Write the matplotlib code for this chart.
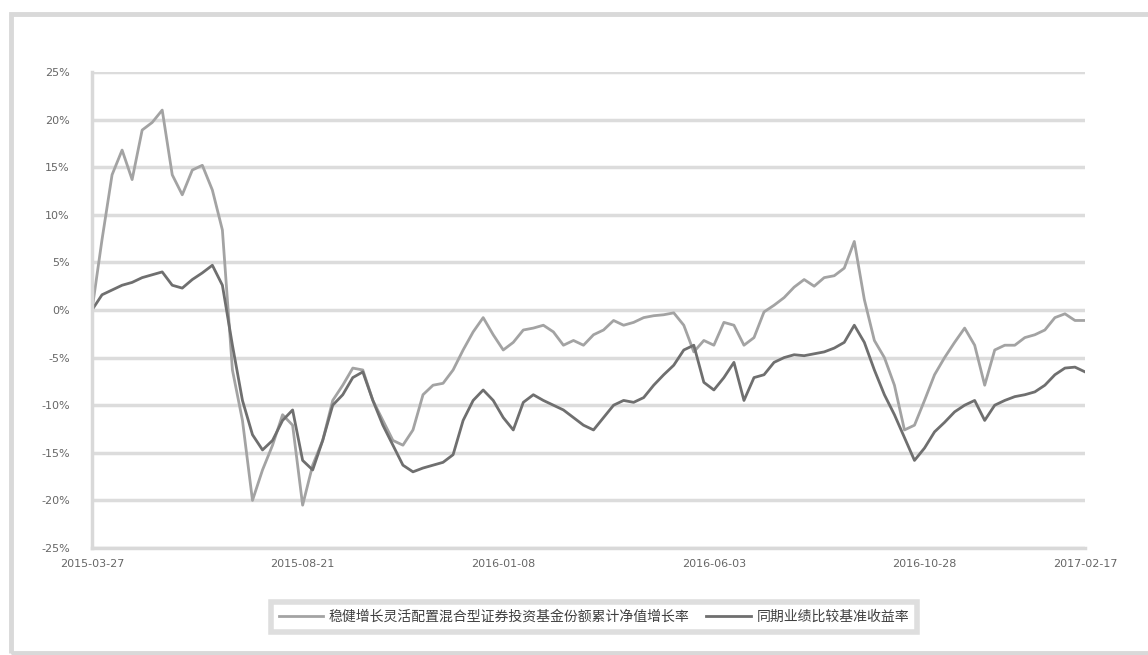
import matplotlib
matplotlib.use("Agg")
import matplotlib.pyplot as plt
from matplotlib.patches import Rectangle
from matplotlib.ticker import FuncFormatter

plt.rcParams['font.family'] = ['Noto Sans CJK SC', 'DejaVu Sans']

# ---- data (percent) ----
fund_name = "稳健增长灵活配置混合型证券投资基金份额累计净值增长率"
bench_name = "同期业绩比较基准收益率"

fund_return = [
    0.0, 7.4, 14.2, 16.8, 13.7, 18.9, 19.7, 21.0, 14.2, 12.1,
    14.7, 15.2, 12.6, 8.4, -6.3, -11.6, -20.0, -16.8, -14.2, -11.0,
    -12.1, -20.5, -16.3, -13.7, -9.5, -7.9, -6.1, -6.3, -9.5, -11.6,
    -13.7, -14.2, -12.6, -8.9, -7.9, -7.7, -6.3, -4.2, -2.3, -0.8,
    -2.6, -4.2, -3.4, -2.1, -1.9, -1.6, -2.3, -3.7, -3.2, -3.7,
    -2.6, -2.1, -1.1, -1.6, -1.3, -0.8, -0.6, -0.5, -0.3, -1.6,
    -4.4, -3.2, -3.7, -1.3, -1.6, -3.7, -2.9, -0.2, 0.5, 1.3,
    2.4, 3.2, 2.5, 3.4, 3.6, 4.4, 7.2, 1.1, -3.2, -5.0,
    -7.9, -12.6, -12.1, -9.5, -6.8, -5.0, -3.4, -1.9, -3.7, -7.9,
    -4.2, -3.7, -3.7, -2.9, -2.6, -2.1, -0.8, -0.4, -1.1, -1.1,
]

bench_return = [
    0.0, 1.6, 2.1, 2.6, 2.9, 3.4, 3.7, 4.0, 2.6, 2.3,
    3.2, 3.9, 4.7, 2.6, -3.7, -9.5, -13.1, -14.7, -13.7, -11.6,
    -10.5, -15.8, -16.8, -13.7, -10.0, -8.9, -7.1, -6.5, -9.5, -12.1,
    -14.2, -16.3, -17.0, -16.6, -16.3, -16.0, -15.2, -11.6, -9.5, -8.4,
    -9.5, -11.3, -12.6, -9.7, -8.9, -9.5, -10.0, -10.5, -11.3, -12.1,
    -12.6, -11.3, -10.0, -9.5, -9.7, -9.2, -7.9, -6.8, -5.8, -4.2,
    -3.7, -7.6, -8.4, -7.1, -5.5, -9.5, -7.1, -6.8, -5.5, -5.0,
    -4.7, -4.8, -4.6, -4.4, -4.0, -3.4, -1.6, -3.4, -6.3, -8.9,
    -11.0, -13.4, -15.8, -14.5, -12.8, -11.8, -10.7, -10.0, -9.5, -11.6,
    -10.0, -9.5, -9.1, -8.9, -8.6, -7.9, -6.8, -6.1, -6.0, -6.5,
]

tick_index = [0, 21, 41, 62, 83, 99]
tick_labels = ["2015-03-27", "2015-08-21", "2016-01-08",
               "2016-06-03", "2016-10-28", "2017-02-17"]
y_ticks = [25, 20, 15, 10, 5, 0, -5, -10, -15, -20, -25]

x = list(range(len(fund_return)))

fig = plt.figure(figsize=(11.48, 6.55), dpi=100)
fig.patch.set_facecolor("white")

# outer chart border (left, top, bottom; right edge runs off the image)
fig.add_artist(Rectangle((11 / 1148, 2 / 655), 1150 / 1148, 639 / 655,
                         transform=fig.transFigure, fill=False,
                         edgecolor="#d9d9d9", linewidth=3.5))

ax = fig.add_axes([92 / 1148, 1 - 548 / 655, (1085 - 92) / 1148, (548 - 72) / 655])
ax.set_facecolor("white")

l1, = ax.plot(x, fund_return, color="#a3a3a3", linewidth=2.0, label=fund_name)
l2, = ax.plot(x, bench_return, color="#6f6f6f", linewidth=2.0, label=bench_name)

ax.set_xlim(0, len(x) - 1)
ax.set_ylim(-25, 25)
ax.set_yticks(y_ticks)
ax.yaxis.set_major_formatter(FuncFormatter(lambda v, p: f"{v:.0f}%"))
ax.set_xticks(tick_index)
ax.set_xticklabels(tick_labels)

ax.grid(axis="y", color="#dcdcdc", linewidth=2.5)
ax.set_axisbelow(True)
for s in ["top", "right"]:
    ax.spines[s].set_visible(False)
ax.spines["left"].set_color("#d9d9d9")
ax.spines["left"].set_linewidth(2.5)
ax.spines["bottom"].set_color("#d9d9d9")
ax.spines["bottom"].set_linewidth(2.5)
ax.tick_params(axis="both", length=0, labelsize=8, labelcolor="#666666", pad=8)
ax.tick_params(axis="y", pad=16)
for lab in ax.get_xticklabels() + ax.get_yticklabels():
    lab.set_family("DejaVu Sans")

leg = fig.legend(handles=[l1, l2], loc="center",
                 bbox_to_anchor=(594 / 1148, 1 - 617 / 655), ncol=2,
                 frameon=True, fancybox=False, fontsize=10,
                 handlelength=3.2, handletextpad=0.4, columnspacing=1.2,
                 borderpad=0.55, labelcolor="#404040")
leg.get_frame().set_edgecolor("#d6d6d6")
leg.get_frame().set_linewidth(4)

fig.savefig("out.png", dpi=100, facecolor="white")
